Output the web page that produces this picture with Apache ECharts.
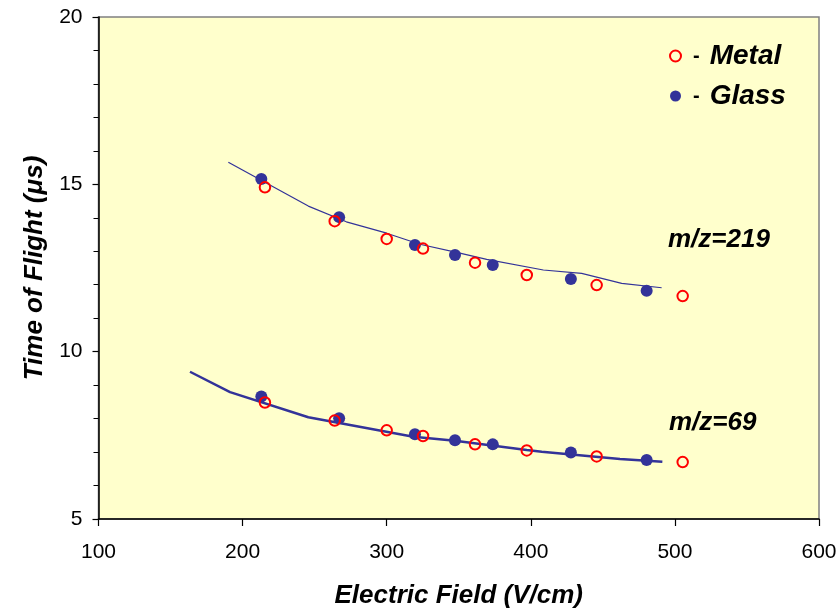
<!DOCTYPE html>
<html>
<head>
<meta charset="utf-8">
<script src="https://cdn.jsdelivr.net/npm/echarts@6/dist/echarts.min.js"></script>
<style>
html,body{margin:0;padding:0;background:#fff;}
#c{width:839px;height:611px;}
</style>
</head>
<body>
<div id="c"></div>
<script>
// Metal (open red circles)
const metalX   = [215.5, 263.9, 300.0, 325.2, 361.3, 397.2, 445.7, 505.4];
const metal219 = [14.91, 13.90, 13.37, 13.08, 12.66, 12.29, 11.99, 11.66];
const metal69  = [8.48, 7.94, 7.65, 7.48, 7.23, 7.05, 6.87, 6.70];
// Glass (filled blue circles)
const glassX   = [213.0, 267.0, 319.6, 347.4, 373.6, 427.8, 480.4];
const glass219 = [15.16, 14.02, 13.19, 12.89, 12.59, 12.17, 11.82];
const glass69  = [8.66, 8.01, 7.53, 7.35, 7.23, 6.99, 6.76];
// Fitted curves
const fit219X = [190.1, 245.6, 272.0, 300.0, 323.0, 350.0, 369.4, 408.7, 435.3, 463.1, 490.8];
const fit219Y = [15.66, 14.35, 13.88, 13.54, 13.21, 12.95, 12.76, 12.44, 12.34, 12.04, 11.91];
const fit69X  = [163.5, 191.3, 245.6, 318.5, 347.4, 397.2, 407.6, 461.9, 491.3];
const fit69Y  = [9.40, 8.79, 8.04, 7.46, 7.34, 7.06, 7.01, 6.79, 6.71];
// Axis ticks
const xTicks = [100, 200, 300, 400, 500, 600];
const yTicks = [5, 10, 15, 20];
// Annotations
const labels = [
  {text: 'm/z=219', x: 495.2, y: 13.34},
  {text: 'm/z=69',  x: 495.9, y: 7.87}
];

const zip = (xs, ys) => xs.map((x, i) => [x, ys[i]]);
const metalData = zip(metalX, metal219).concat(zip(metalX, metal69));
const glassData = zip(glassX, glass219).concat(zip(glassX, glass69));

const chart = echarts.init(document.getElementById('c'), null, {renderer: 'canvas'});
const font = 'Arial, "Liberation Sans", Helvetica, sans-serif';
const blue = '#333399';

chart.setOption({
  animation: false,
  textStyle: {fontFamily: font},
  grid: {left: 98.5, top: 17, right: 20, bottom: 92, show: true, containLabel: false,
         outerBoundsMode: 'none',
         backgroundColor: '#FFFFCC', borderColor: '#808080', borderWidth: 1.5},
  legend: {
    data: ['Metal', 'Glass'],
    orient: 'vertical',
    left: 664, top: 37,
    itemWidth: 11, itemHeight: 11, itemGap: 12,
    formatter: n => '{d|-}{n|' + n + '}',
    textStyle: {
      rich: {
        d: {fontSize: 20, fontWeight: 'bold', color: '#000', fontFamily: font, padding: [0, 10, 0, 7]},
        n: {fontSize: 28, lineHeight: 32, fontWeight: 'bold', fontStyle: 'italic', color: '#000', fontFamily: font}
      }
    }
  },
  xAxis: {
    type: 'value', min: xTicks[0], max: xTicks[xTicks.length - 1], interval: 100,
    name: 'Electric Field (V/cm)', nameLocation: 'middle', nameGap: 64,
    nameTextStyle: {fontSize: 26, fontWeight: 'bold', fontStyle: 'italic', color: '#000', fontFamily: font},
    axisLine: {onZero: false, lineStyle: {color: '#000', width: 1.5}},
    axisTick: {show: true, length: 7, lineStyle: {color: '#000', width: 1.2}},
    axisLabel: {fontSize: 21, color: '#000', margin: 23, fontFamily: font},
    splitLine: {show: false}
  },
  yAxis: {
    type: 'value', min: yTicks[0], max: yTicks[yTicks.length - 1], interval: 5,
    name: 'Time of Flight (\u03bcs)', nameLocation: 'middle', nameGap: 51,
    nameTextStyle: {fontSize: 26, fontWeight: 'bold', fontStyle: 'italic', color: '#000', fontFamily: font},
    axisLine: {onZero: false, lineStyle: {color: '#000', width: 1.5}},
    axisTick: {show: true, length: 6, lineStyle: {color: '#000', width: 1.2}},
    minorTick: {show: true, splitNumber: 5, length: 5, lineStyle: {color: '#000', width: 1}},
    axisLabel: {fontSize: 21, color: '#000', margin: 16, fontFamily: font},
    splitLine: {show: false}
  },
  series: [
    {type: 'line', name: 'fit219', data: zip(fit219X, fit219Y), symbol: 'none',
     lineStyle: {color: blue, width: 1.2}, z: 2},
    {type: 'line', name: 'fit69', data: zip(fit69X, fit69Y), symbol: 'none',
     lineStyle: {color: blue, width: 2.5}, z: 2},
    {type: 'scatter', name: 'Glass', data: glassData, symbol: 'circle', symbolSize: 12,
     itemStyle: {color: blue, opacity: 1}, z: 3},
    {type: 'scatter', name: 'Metal', data: metalData, symbol: 'circle', symbolSize: 10.5,
     itemStyle: {color: 'rgba(255,255,204,0)', borderColor: '#FF0000', borderWidth: 2, opacity: 1}, z: 4}
  ]
});

const g = labels.map(l => {
  const p = chart.convertToPixel({gridIndex: 0}, [l.x, l.y]);
  return {type: 'text', x: p[0], y: p[1],
    style: {text: l.text, fill: '#000', font: 'italic bold 26px ' + font,
            textAlign: 'left', textVerticalAlign: 'middle'}};
});
chart.setOption({graphic: g});
</script>
</body>
</html>
